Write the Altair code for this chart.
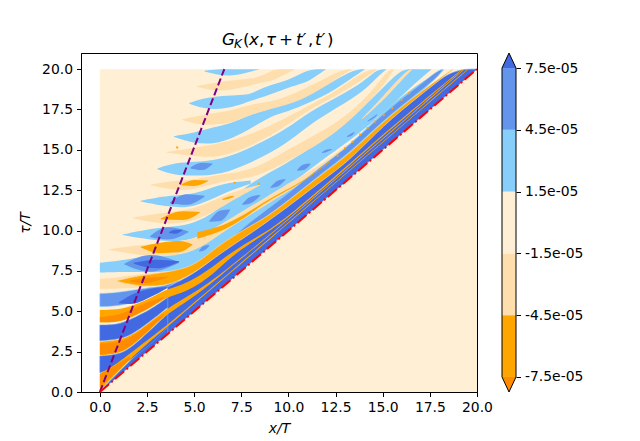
import pandas as pd
import altair as alt

# each shape is (x, lower tau, upper tau)
sky_shapes = [
    ([5.55, 6.2, 7, 8, 8.5], [19.85, 19.65, 19.55, 19.85, 20], [19.9, 20, 20, 20, 20]),
    ([4.73, 5.5, 6.5, 7.5, 8, 8.87, 9.75, 10.63, 11.15, 12], [17.87, 17.55, 17.5, 17.8, 18.04, 18.35, 18.76, 19.07, 19.3, 20], [17.9, 18.2, 18.35, 18.4, 18.45, 18.97, 19.2, 19.7, 20, 20]),
    ([3.93, 5, 6, 7, 8, 9.05, 9.93, 11.16, 12.4, 13.55, 14.07], [15.8, 15.4, 15.35, 15.7, 16.3, 17.1, 17.35, 17.94, 18.65, 19.6, 20], [15.85, 16.05, 16.4, 16.65, 17.2, 17.5, 18.14, 18.45, 19.27, 20, 20]),
    ([3.05, 4, 5, 6.4, 8.16, 9.93, 11.16, 12.57, 14.07, 14.7, 15.2], [13.8, 13.4, 13.4, 13.44, 14.26, 15.4, 16.6, 17.6, 18.7, 19.5, 20], [13.85, 14.2, 14.25, 14.36, 15.2, 16.3, 17.4, 18.25, 19.27, 20, 20]),
    ([2.17, 3.7, 5, 6.5, 8], [11.8, 11.45, 11.4, 12.3, 12.9], [11.85, 12.2, 12.2, 12.95, 13.1]),
    ([1.2, 3, 5, 6.5, 8, 9.93, 11.69, 13.28, 14.34, 15.9, 16.5, 17.6], [9.72, 9.35, 9.3, 10.45, 11.3, 12.7, 14.3, 15.6, 16.6, 18.2, 18.9, 20], [9.75, 10.2, 10.3, 11.5, 13.0, 14.15, 15.5, 17.2, 17.96, 20, 20, 20]),
    # the sky between the two thick orange lines
    ([4, 5, 6.5, 8.16, 9.93, 11.69, 13.28, 15, 17, 18.3], [7.3, 7.8, 9.0, 10.2, 11.6, 13.2, 14.6, 16.6, 18.5, 20], [8.4, 8.7, 10.0, 11.3, 12.6, 14.0, 15.3, 17.4, 19.2, 20]),
    ([0, 1.5, 3, 4.2, 5, 6], [7.4, 7.45, 7.4, 7.5, 7.9, 8.9], [8.0, 8.2, 8.55, 8.6, 8.7, 9.8]),
]
navajo_shapes = [
    ([5.17, 6, 7, 8, 8.7, 9.2, 9.7, 10.36], [18.9, 18.65, 18.7, 19, 19.2, 19.3, 19.6, 20], [18.95, 19.15, 19.3, 19.4, 19.6, 20, 20, 20]),
    ([4.37, 5.2, 6.2, 7.2, 8, 9.4, 10.63, 11.87, 12.9, 13.4], [16.85, 16.55, 16.55, 16.75, 17.21, 17.63, 18.04, 18.86, 19.69, 20], [16.9, 17.1, 17.3, 17.5, 17.83, 18.04, 18.66, 19.38, 20, 20]),
    ([3.55, 5, 6.4, 8.16, 9.93, 11.16, 12.57, 14.07, 14.7], [14.82, 14.6, 14.5, 15.3, 16.5, 17.55, 18.35, 19.45, 20], [14.87, 15.1, 15.4, 16.0, 17.0, 17.8, 18.65, 19.95, 20]),
    ([2.7, 4, 5, 6.5, 8.16, 9.93, 11.69, 12.85, 14.34, 15.3, 15.6], [12.8, 12.5, 12.5, 13.1, 13.23, 14.26, 15.4, 16.4, 18.0, 19.4, 20], [12.85, 13.1, 13.15, 13.5, 13.74, 15.0, 16.1, 16.9, 18.45, 20, 20]),
    ([1.76, 3.2, 5, 6.8, 8.5], [10.76, 10.4, 10.45, 11.7, 12.8], [10.8, 11.1, 11.25, 12.35, 12.85]),
    ([13.9, 15, 16.3, 16.6], [16.9, 18.0, 19.7, 20], [16.95, 18.3, 20, 20]),
    ([0.5, 2, 3.3, 5, 6.5, 8.16, 9.93, 10.81, 12.2, 13.1], [8.8, 8.5, 8.35, 8.6, 9.9, 11.1, 12.4, 12.95, 14.1, 15.0], [8.85, 9.1, 9.2, 9.4, 10.45, 11.6, 12.9, 13.4, 14.5, 15.3]),
    ([0, 1, 2.5, 4, 4.8], [6.4, 6.4, 6.5, 6.75, 7.3], [7.0, 7.1, 7.35, 7.5, 7.6]),
]
corn_shapes = [
    ([5.5, 6.5, 7.4, 8.5, 10, 11.7, 13.28, 15, 17, 17.9, 18.2], [7.9, 8.6, 9.6, 10.6, 11.85, 13.5, 14.85, 16.8, 18.65, 19.5, 20], [7.95, 8.9, 10.0, 11.0, 12.3, 13.95, 15.3, 17.25, 19.05, 19.9, 20]),
    ([0, 1, 2.7, 3.5, 4.2], [5.3, 5.3, 5.85, 6.45, 6.9], [6.1, 6.15, 6.5, 6.55, 7.0]),
]
corn_blobs = [
    ([4.8, 5.4, 5.96], [13.85, 13.75, 14.1], [13.9, 14.2, 14.15]),
    ([3.72, 4.6, 5.55], [11.7, 11.6, 12.1], [11.75, 12.25, 12.15]),
    ([2.66, 3.6, 4.7], [9.6, 9.45, 9.9], [9.65, 10.2, 9.95]),
    ([5.8, 6.4, 6.9], [10.55, 10.6, 11.25], [10.6, 11.25, 11.3]),
    ([7.55, 8, 8.5], [11.6, 11.7, 12.15], [11.65, 12.1, 12.2]),
    ([9.05, 9.45, 9.84], [12.65, 12.75, 13.15], [12.7, 13.1, 13.2]),
    ([10.46, 10.8, 11.16], [13.7, 13.75, 14.1], [13.75, 14.1, 14.15]),
    ([11.78, 12, 12.3], [14.8, 14.85, 15.0], [14.85, 15.0, 15.05]),
    ([13.1, 13.3, 13.5], [15.8, 15.85, 16.05], [15.85, 16.0, 16.1]),
    ([14.2, 14.45, 14.7], [16.75, 16.9, 17.15], [16.8, 17, 17.2]),
    ([1.3, 2.7, 4.2], [7.9, 7.45, 8.0], [7.95, 8.48, 8.05]),
    ([5.26, 5.5, 5.8], [8.7, 8.75, 9.05], [8.75, 9.05, 9.1]),
]
royal_shapes = [
    # wedge behind everything in front of the thick orange line
    ([3.6, 5.17, 6.57, 8.16, 9.93, 11.69, 13.28, 15, 17, 18.7, 20], [3.6, 5.17, 6.57, 8.16, 9.93, 11.69, 13.28, 15, 17, 18.7, 20], [6.5, 7.4, 8.85, 10.1, 11.5, 13.1, 14.5, 16.55, 18.45, 20, 20]),
    ([0, 1.3, 3.6], [0, 1.3, 3.6], [0, 1.65, 4.0]),
    ([0, 0.93, 1.64, 2.7, 3.6], [1.2, 1.5, 2.0, 2.95, 4.0], [2.23, 2.3, 2.7, 3.85, 4.85]),
    ([0, 0.93, 1.64, 2.7, 3.6], [3.17, 3.25, 3.5, 4.4, 5.25], [4.15, 4.15, 4.5, 5.1, 5.85]),
]
royal_blobs = [
    ([1, 1.64, 2.7, 3.58], [5.5, 5.45, 5.9, 6.45], [5.55, 6.0, 6.4, 6.5]),
    ([1.8, 3, 4.2], [7.95, 7.66, 8.05], [8.0, 8.2, 8.1]),
    ([3.67, 4, 4.37], [9.85, 9.8, 10.0], [9.9, 10.05, 10.05]),
]
orange_thin = [
    ([0, 0.5, 1, 2, 3.6, 6.6, 8.9, 13.3, 15, 17, 19.5], [0.05, 0.7, 1.3, 2.5, 4.05, 7.05, 9.35, 13.75, 15.45, 17.45, 19.95], [1.15, 1.45, 1.85, 2.75, 4.15, 7.12, 9.42, 13.8, 15.5, 17.5, 20]),
    ([0, 0.93, 1.64, 2.7, 3.58, 4.8, 6.05, 6.57, 8.9, 13.3, 15, 17, 19.3], [2.28, 2.35, 2.75, 3.9, 4.85, 5.75, 6.85, 7.4, 9.55, 13.95, 15.65, 17.65, 19.95], [3.12, 3.2, 3.45, 4.35, 5.2, 6.0, 7.0, 7.47, 9.62, 14.02, 15.72, 17.72, 20]),
    ([0, 0.93, 1.64, 2.7, 3.58, 4.3, 5.17, 6.05, 6.57, 7.5, 8.5, 10, 13.3, 15, 17, 19.2], [4.3, 4.3, 4.6, 5.2, 5.9, 6.1, 6.6, 7.35, 7.95, 8.85, 9.6, 10.75, 14.1, 15.85, 17.8, 19.95], [5.08, 5.1, 5.3, 5.8, 6.4, 6.6, 7.1, 7.8, 8.3, 9.05, 9.7, 10.85, 14.2, 15.95, 17.9, 20]),
    # thin line that breaks into dots
    ([5.17, 6.75, 8.16, 9, 10.81, 12.2], [9.5, 10.05, 11.2, 11.9, 13.0, 14.25], [9.9, 10.35, 11.35, 12.0, 13.05, 14.3]),
]
orange_thick = [
    ([0.93, 2, 3.4, 4.3, 5.17, 6.4, 8.16, 8.87, 9.93, 11.69, 13.28, 15, 17, 18.7], [6.85, 6.55, 6.55, 6.95, 7.5, 8.6, 9.95, 10.55, 11.43, 13.02, 14.36, 16.5, 18.4, 19.95], [6.9, 7.2, 7.4, 7.6, 7.95, 9.2, 10.4, 10.87, 11.78, 13.43, 14.78, 16.75, 18.6, 20]),
]
orange_blobs = [
    ([2.17, 3.2, 4.2, 4.9], [8.95, 8.6, 8.65, 9.1], [9.0, 9.25, 9.35, 9.15]),
    ([3.23, 4.4, 5.3], [10.7, 10.65, 11.1], [10.75, 11.2, 11.15]),
    ([4.32, 5, 5.73], [12.8, 12.76, 13.05], [12.85, 13.13, 13.1]),
    ([6.5, 6.8, 7.1], [11.9, 11.95, 12.1], [11.95, 12.1, 12.15]),
]
dark_shapes = [
    ([0, 0.5, 1, 1.6], [0.3, 0.8, 1.4, 2.0], [1.1, 1.4, 1.8, 2.2]),
    ([0, 0.93, 1.64, 2.7, 3.4], [2.33, 2.4, 2.8, 3.95, 4.75], [3.0, 3.05, 3.35, 4.3, 4.85]),
    ([0, 0.93, 1.64, 2.7, 3.4], [4.33, 4.33, 4.65, 5.25, 5.85], [4.65, 4.75, 5.1, 5.65, 5.9]),
    ([1.6, 2.5, 3.6], [6.85, 6.65, 7.1], [6.9, 7.1, 7.15]),
]
dot_x = [4.1, 7.15, 8.43, 12.6, 13.0, 13.4, 13.8, 14.2, 14.6, 15.05, 15.5, 16.0, 16.4]
dot_y = [15.15, 12.96, 12.9, 14.65, 15.1, 15.5, 15.95, 16.35, 16.75, 17.15, 17.6, 18.1, 18.5]

levels = [-7.5e-5, -4.5e-5, -1.5e-5, 1.5e-5, 4.5e-5, 7.5e-5]
bar_colors = ["#ffa500", "#ffdead", "#ffefd5", "#87cefa", "#6495ed"]
tip_top = 8.23e-5


def make_df(shapes):
    rows = []
    for n, (xs, lows, highs) in enumerate(shapes):
        for x, lo, hi in zip(xs, lows, highs):
            rows.append({"x": x, "lo": lo, "hi": hi, "shape": n})
    return pd.DataFrame(rows)


x_enc = alt.X("x:Q", scale=alt.Scale(domain=[-1, 20], nice=False), title="x/T",
              axis=alt.Axis(values=[0, 2.5, 5, 7.5, 10, 12.5, 15, 17.5, 20], format=".1f", grid=False,
                            titleFontStyle="italic", labelFlush=False, titlePadding=7))
y_enc = alt.Y("lo:Q", scale=alt.Scale(domain=[0, 21], nice=False), title="τ/T",
              axis=alt.Axis(values=[0, 2.5, 5, 7.5, 10, 12.5, 15, 17.5, 20], format=".1f", grid=False,
                            titleFontStyle="italic", labelFlush=False, titlePadding=9))


def band(shapes, color, edge=None, curve="basis"):
    opts = dict(fill=color, interpolate=curve, opacity=1)
    if edge:
        opts.update(stroke=edge, strokeWidth=0.6)
    return alt.Chart(make_df(shapes)).mark_area(**opts).encode(x=x_enc, y=y_enc, y2="hi:Q", detail="shape:N")


base = alt.Chart(pd.DataFrame({"x": [0, 20], "lo": [0, 0], "hi": [20, 20]})).mark_area(fill="#ffefd5", opacity=1).encode(
    x=x_enc, y=y_enc, y2="hi:Q")

dots = alt.Chart(pd.DataFrame({"x": dot_x, "lo": dot_y})).mark_square(size=4, color="#ffa500", opacity=1).encode(x=x_enc, y=y_enc)

purple = alt.Chart(pd.DataFrame({"x": [0, 6.6], "lo": [0, 20]})).mark_line(color="purple", strokeWidth=2, strokeDash=[7.4, 3.2]).encode(x=x_enc, y=y_enc)
red = alt.Chart(pd.DataFrame({"x": [0, 20], "lo": [0, 20]})).mark_line(color="red", strokeWidth=2, strokeDash=[12, 3, 2, 3]).encode(x=x_enc, y=y_enc)

title_parts = [("G", 141, 16.7, "italic"), ("K", 153, 12, "italic"), ("(", 162, 16.7, "normal"),
               ("x", 168, 16.7, "italic"), (",", 178, 16.7, "normal"), ("τ", 185, 16.7, "italic"),
               ("+", 198, 16.7, "normal"), ("t′", 215, 16.7, "italic"), (",", 227, 16.7, "normal"),
               ("t′", 234, 16.7, "italic"), (")", 246, 16.7, "normal")]
title_marks = []
for txt, px, fs, st in title_parts:
    dy = -5 if txt == "K" else -8
    title_marks.append(alt.Chart(pd.DataFrame({"t": [txt]})).mark_text(
        text=txt, align="left", baseline="alphabetic", font="DejaVu Sans", fontSize=fs, fontStyle=st, color="black"
    ).encode(x=alt.value(px), y=alt.value(dy)))

main = alt.layer(
    base,
    band(sky_shapes, "#87cefa"),
    band(navajo_shapes, "#ffdead"),
    band(corn_shapes, "#6495ed", "#87cefa"),
    band(corn_blobs, "#6495ed", curve="monotone"),
    band(royal_shapes, "#4169e1", "#6495ed"),
    band(royal_blobs, "#4169e1", curve="monotone"),
    band(orange_thin, "#ffa500"),
    band(orange_thick, "#ffa500", "#ffdead"),
    band(orange_blobs, "#ffa500", curve="monotone"),
    band(dark_shapes, "#ff8c00"),
    dots, purple, red, *title_marks,
).properties(width=396, height=339)

bar_df = pd.DataFrame({"lo": levels[:-1], "hi": levels[1:], "band": [str(i) for i in range(5)]})
bar_y = alt.Y("lo:Q", scale=alt.Scale(domain=[-tip_top, tip_top], nice=False), title=None,
              axis=alt.Axis(orient="right", values=levels, domain=False, grid=False, labelFlush=False,
                            labelExpr="replace(replace(format(datum.value, '.1e'), 'e-5', 'e-05'), '−', '-')"))
bar_rect = alt.Chart(bar_df).mark_rect(opacity=1).encode(
    x=alt.value(0), x2=alt.value(14), y=bar_y, y2="hi:Q",
    color=alt.Color("band:N", scale=alt.Scale(domain=list(bar_df["band"]), range=bar_colors), legend=None))

bar_x = alt.X("bx:Q", scale=alt.Scale(domain=[0, 1], nice=False), axis=None)
up_tip = alt.Chart(pd.DataFrame({"bx": [0, 0.5, 1], "lo": [7.5e-5, tip_top, 7.5e-5], "hi": [7.5e-5] * 3})).mark_area(fill="#4169e1", opacity=1).encode(x=bar_x, y=bar_y, y2="hi:Q")
down_tip = alt.Chart(pd.DataFrame({"bx": [0, 0.5, 1], "lo": [-7.5e-5, -tip_top, -7.5e-5], "hi": [-7.5e-5] * 3})).mark_area(fill="#ff8c00", opacity=1).encode(x=bar_x, y=bar_y, y2="hi:Q")
outline = alt.Chart(pd.DataFrame({
    "bx": [0, 0.5, 1, 1, 0.5, 0, 0],
    "lo": [7.5e-5, tip_top, 7.5e-5, -7.5e-5, -tip_top, -7.5e-5, 7.5e-5],
    "o": list(range(7))})).mark_line(color="black", strokeWidth=1).encode(x=bar_x, y=bar_y, order="o:Q")

colorbar = alt.layer(bar_rect, up_tip, down_tip, outline).properties(width=14, height=339, view=alt.ViewConfig(stroke=None))

chart = alt.hconcat(main, colorbar, spacing=7).resolve_scale(x="independent", y="independent", color="independent").configure_axis(
    domainColor="black", tickColor="black", labelColor="black", titleColor="black",
    labelFont="DejaVu Sans", titleFont="DejaVu Sans", labelFontSize=13.9, titleFontSize=13.9,
    titleFontWeight="normal", tickSize=4.5, domainWidth=1, labelPadding=4
).configure_view(stroke="black", strokeWidth=1).properties(
    padding={"left": 10, "top": 23, "right": 5, "bottom": 3}, background="white")

chart.save("out.html", embed_options={"renderer": "svg", "actions": False})
